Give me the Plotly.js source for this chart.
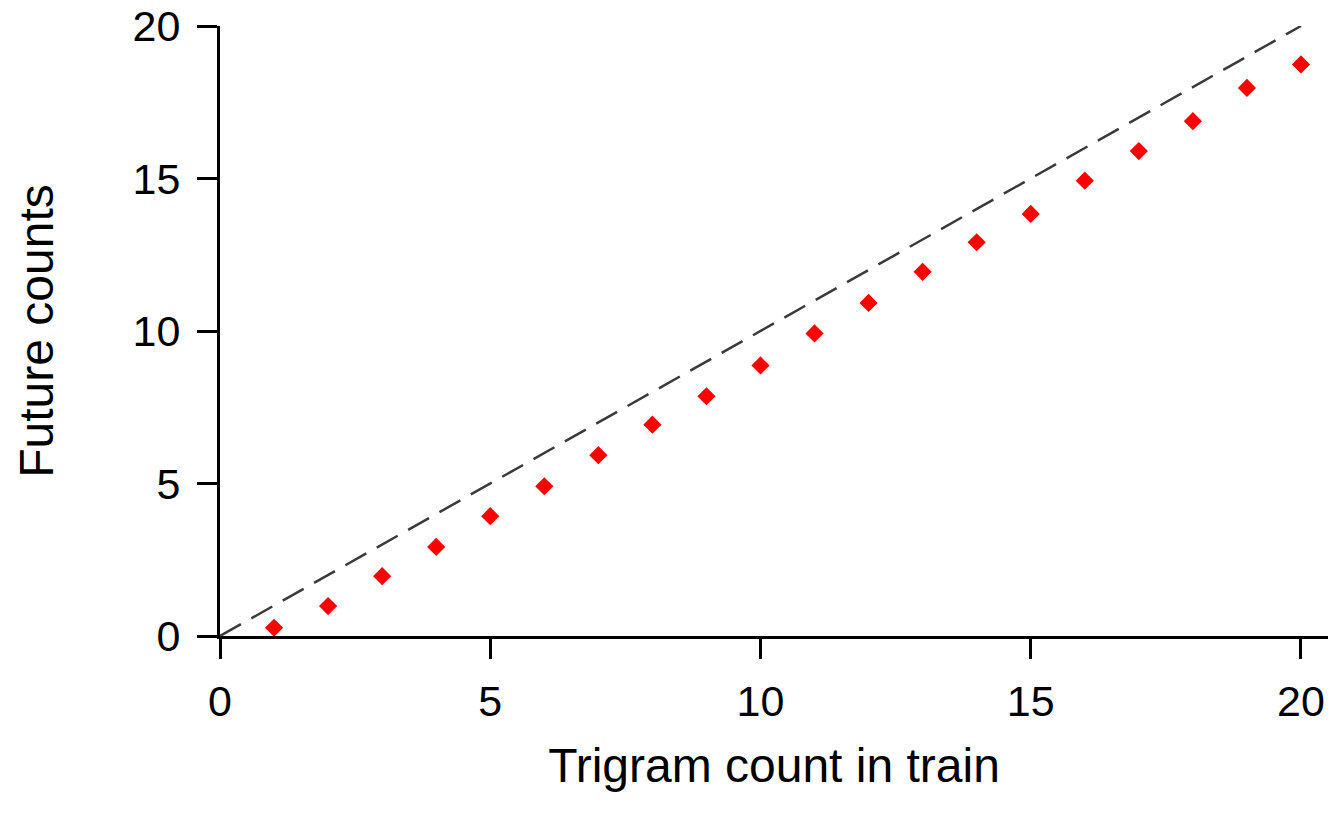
<!DOCTYPE html>
<html>
<head>
<meta charset="utf-8">
<script src="https://cdn.plot.ly/plotly-3.0.1.min.js"></script>
<style>html,body{margin:0;padding:0;background:#fff;}#chart{width:1341px;height:823px;}</style>
</head>
<body>
<div id="chart"></div>
<script>
const trainCounts = [1,2,3,4,5,6,7,8,9,10,11,12,13,14,15,16,17,18,19,20];
const futureCounts = [0.27,0.98,1.96,2.92,3.93,4.91,5.93,6.93,7.86,8.87,9.92,10.92,11.94,12.91,13.84,14.93,15.90,16.88,17.97,18.74];
const refX = [0, 20];
const refY = [0, 20];
const xTicks = [0,5,10,15,20];
const yTicks = [0,5,10,15,20];

const fontFam = '"Liberation Sans", Arial, sans-serif';

const traces = [
  {x: refX, y: refY, mode: 'lines', type: 'scatter',
   line: {color: '#3a3a3a', width: 2.5, dash: '24px,12px'}, hoverinfo: 'skip', cliponaxis: false},
  {x: trainCounts, y: futureCounts, mode: 'markers', type: 'scatter',
   marker: {symbol: 'diamond', size: 14, color: '#ff0000', line: {width: 0}}, cliponaxis: false}
];

const layout = {
  width: 1341, height: 823,
  margin: {l: 220, r: 13, t: 26, b: 187, pad: 0},
  paper_bgcolor: '#ffffff', plot_bgcolor: '#ffffff',
  showlegend: false,
  font: {family: fontFam, color: '#000000'},
  xaxis: {
    range: [0, 20.5], tickvals: xTicks, ticktext: xTicks.map(String),
    showgrid: false, zeroline: false, showline: true, linecolor: '#000', linewidth: 3,
    ticks: 'outside', ticklen: 20, tickwidth: 3, tickcolor: '#000',
    tickfont: {family: fontFam, size: 43, color: '#000'}, ticklabelstandoff: 5,
    automargin: false,
    title: {text: 'Trigram count in train', font: {family: fontFam, size: 48, color: '#000'}, standoff: 25}
  },
  yaxis: {
    range: [0, 20], tickvals: yTicks, ticktext: yTicks.map(String),
    showgrid: false, zeroline: false, showline: true, linecolor: '#000', linewidth: 3,
    ticks: 'outside', ticklen: 20, tickwidth: 3, tickcolor: '#000',
    tickfont: {family: fontFam, size: 43, color: '#000'}, ticklabelstandoff: 8,
    automargin: false,
    title: {text: 'Future counts', font: {family: fontFam, size: 48, color: '#000'}, standoff: 64}
  }
};

Plotly.newPlot('chart', traces, layout, {displayModeBar: false, staticPlot: true});
</script>
</body>
</html>
